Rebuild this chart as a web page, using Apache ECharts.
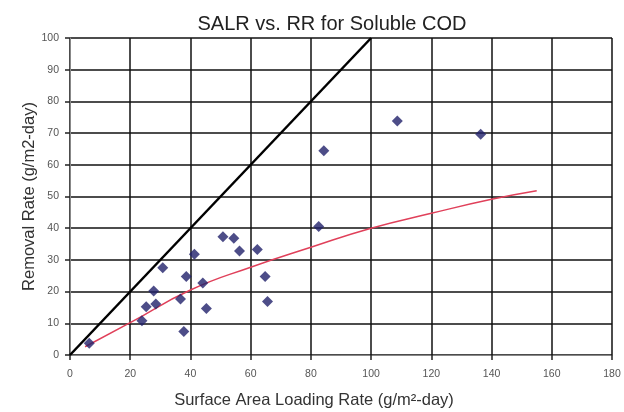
<!DOCTYPE html>
<html>
<head>
<meta charset="utf-8">
<script src="https://cdn.jsdelivr.net/npm/echarts@6/dist/echarts.min.js"></script>
<style>html,body{margin:0;padding:0;background:#fff;}#c{width:624px;height:412px;}</style>
</head>
<body>
<div id="c"></div>
<script>
// Measured data points (SALR, RR)
const salr = [6.4, 23.9, 25.3, 28.5, 27.8, 30.8, 37.8, 36.7, 38.6, 41.3, 44.1, 45.3, 50.8, 54.4, 56.3, 62.2, 64.8, 65.6, 84.3, 82.6, 108.7, 136.4];
const rr   = [3.7, 10.8, 15.2, 16.1, 20.2, 27.5, 7.4, 17.7, 24.8, 31.8, 22.7, 14.7, 37.3, 36.8, 32.8, 33.3, 24.8, 16.9, 64.4, 40.5, 73.8, 69.6];
// 1:1 reference line endpoints
const oneX = [0, 100];
const oneY = [0, 100];
// Trend curve
const trendX = [5, 20, 40, 60, 80, 100, 120, 140, 155];
const trendY = [2.6, 10.2, 20.5, 27.7, 34, 40, 44.7, 49.1, 51.8];
// Tick settings
const xTicks = {min: 0, max: 180, interval: 20};
const yTicks = {min: 0, max: 100, interval: 10};

const pts = salr.map((x, i) => [x, rr[i]]);
const one = oneX.map((x, i) => [x, oneY[i]]);
const trend = trendX.map((x, i) => [x, trendY[i]]);

const font = 'Liberation Sans, Arial, sans-serif';
const chart = echarts.init(document.getElementById('c'));
chart.setOption({
  backgroundColor: '#fff',
  animation: false,
  title: {
    text: 'SALR vs. RR for Soluble COD',
    left: 327, top: 9, textAlign: 'center',
    textStyle: {fontFamily: font, fontSize: 20, fontWeight: 'normal', color: '#222'}
  },
  grid: {left: 70, right: 12, top: 38, bottom: 57, containLabel: false, outerBoundsMode: 'none'},
  xAxis: {
    type: 'value', min: xTicks.min, max: xTicks.max, interval: xTicks.interval,
    name: 'Surface Area Loading Rate (g/m\u00B2-day)', nameLocation: 'middle', nameGap: 37,
    nameMoveOverlap: false,
    nameTextStyle: {fontFamily: font, fontSize: 16.5, color: '#333', padding: [0, 54, 0, 0]},
    axisLine: {show: true, lineStyle: {color: '#888', width: 1}},
    axisTick: {show: true, length: 5, lineStyle: {color: '#222', width: 1.5}},
    axisLabel: {fontFamily: font, fontSize: 10.5, color: '#555', margin: 14},
    splitLine: {show: true, lineStyle: {color: '#111', width: 1.5}}
  },
  yAxis: {
    type: 'value', min: yTicks.min, max: yTicks.max, interval: yTicks.interval,
    name: 'Removal Rate (g/m2-day)', nameLocation: 'middle', nameGap: 32,
    nameMoveOverlap: false,
    nameTextStyle: {fontFamily: font, fontSize: 16.5, color: '#333'},
    axisLine: {show: true, lineStyle: {color: '#888', width: 1}},
    axisTick: {show: true, length: 5, lineStyle: {color: '#222', width: 1.5}},
    axisLabel: {fontFamily: font, fontSize: 10.5, color: '#555', margin: 11},
    splitLine: {show: true, lineStyle: {color: '#111', width: 1.5}}
  },
  series: [
    {type: 'line', data: one, symbol: 'none', lineStyle: {color: '#000', width: 2.5}, z: 3},
    {type: 'line', data: trend, symbol: 'none', smooth: true, lineStyle: {color: '#e0405a', width: 1.5}, z: 4},
    {type: 'scatter', data: pts, symbol: 'diamond', symbolSize: 11, itemStyle: {color: '#20206a'}, z: 5}
  ]
});
</script>
</body>
</html>
